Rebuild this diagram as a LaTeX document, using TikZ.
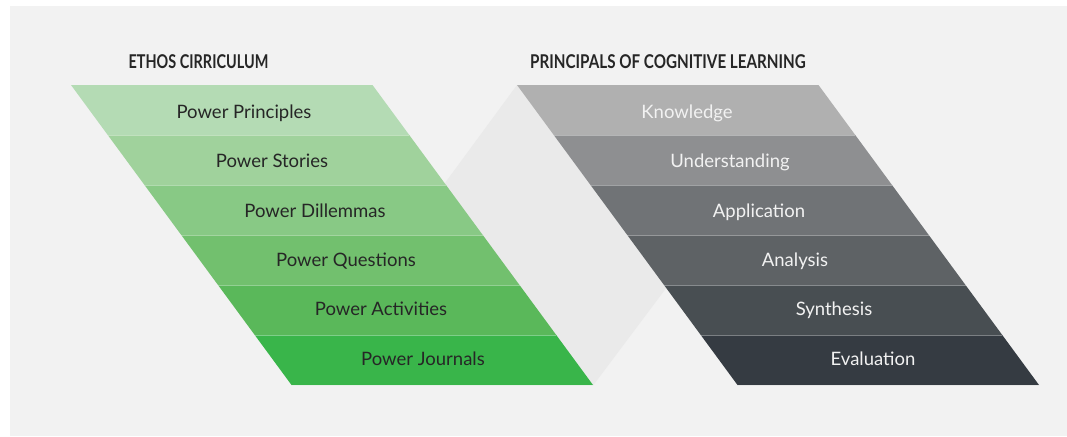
\documentclass[tikz,border=0pt]{standalone}
\usepackage{fontspec}
\setmainfont{Lato}
\definecolor{bgc}{HTML}{F2F2F2}
\definecolor{conn}{HTML}{EAEAEA}
\definecolor{ga}{HTML}{B4DBB4}
\definecolor{gb}{HTML}{A0D29C}
\definecolor{gc}{HTML}{88C985}
\definecolor{gd}{HTML}{72C06E}
\definecolor{ge}{HTML}{5AB85A}
\definecolor{gf}{HTML}{39B54A}
\definecolor{ka}{HTML}{B0B0B0}
\definecolor{kb}{HTML}{8E8F91}
\definecolor{kc}{HTML}{707376}
\definecolor{kd}{HTML}{5E6265}
\definecolor{ke}{HTML}{484E52}
\definecolor{kf}{HTML}{353B42}
\definecolor{darktext}{HTML}{262626}
\definecolor{lighttext}{HTML}{F2F2F2}
\tikzset{
  heading/.style={font=\bfseries\fontsize{19}{19}\selectfont, text=darktext, inner sep=0pt, anchor=base},
  greenlabel/.style={font=\fontsize{18.5}{18.5}\selectfont, text=darktext, inner sep=0pt, anchor=base},
  greylabel/.style={font=\fontsize{18.5}{18.5}\selectfont, text=lighttext, inner sep=0pt, anchor=base},
  sepline/.style={draw=white, draw opacity=0.35, line width=0.8pt}
}
\begin{document}
\begin{tikzpicture}[x=1pt,y=-1pt]
\useasboundingbox (0,0) rectangle (1067,436);
\fill[white] (0,0) rectangle (1067,436);
\fill[bgc] (10,6) rectangle (1067,436);
% connecting back face
\fill[conn] (517,85) -- (818.5,85) -- (593.5,385) -- (296.5,385) -- cycle;
% green bands
\foreach \i/\c in {0/ga,1/gb,2/gc,3/gd,4/ge,5/gf}{
  \pgfmathsetmacro{\ya}{85+50*\i}
  \pgfmathsetmacro{\yb}{85+50*(\i+1)}
  \fill[\c] ({71+0.735*(\ya-85)},\ya) -- ({372.5+0.735*(\ya-85)},\ya)
     -- ({372.5+0.735*(\yb-85)},\yb) -- ({71+0.735*(\yb-85)},\yb) -- cycle;
}
% grey bands
\foreach \i/\c in {0/ka,1/kb,2/kc,3/kd,4/ke,5/kf}{
  \pgfmathsetmacro{\ya}{85+50*\i}
  \pgfmathsetmacro{\yb}{85+50*(\i+1)}
  \fill[\c] ({517+0.735*(\ya-85)},\ya) -- ({818.5+0.735*(\ya-85)},\ya)
     -- ({818.5+0.735*(\yb-85)},\yb) -- ({517+0.735*(\yb-85)},\yb) -- cycle;
}
% separators
\foreach \i in {1,...,6}{
  \pgfmathsetmacro{\ya}{85+50*\i}
  \draw[sepline] ({71+0.735*(\ya-85)},\ya) -- ({372.5+0.735*(\ya-85)},\ya);
  \draw[sepline] ({517+0.735*(\ya-85)},\ya) -- ({818.5+0.735*(\ya-85)},\ya);
}
% headings
\node[heading] (h1) at (198.5,68.3) {\scalebox{0.76}[1]{ETHOS CIRRICULUM}};
\node[heading] (h2) at (668,68.3) {\scalebox{0.8}[1]{PRINCIPALS OF COGNITIVE LEARNING}};
% labels
\node[greenlabel] (p1) at (244,118.8) {Power Principles};
\node[greenlabel] (p2) at (272,167.8) {Power Stories};
\node[greenlabel] (p3) at (315,217.1) {Power Dillemmas};
\node[greenlabel] (p4) at (346,266.4) {Power Questions};
\node[greenlabel] (p5) at (381,315.7) {Power Activities};
\node[greenlabel] (p6) at (423,365) {Power Journals};
\node[greylabel] (c1) at (687,118.8) {Knowledge};
\node[greylabel] (c2) at (730,167.8) {Understanding};
\node[greylabel] (c3) at (759,217.1) {Application};
\node[greylabel] (c4) at (795,266.4) {Analysis};
\node[greylabel] (c5) at (834,315.7) {Synthesis};
\node[greylabel] (c6) at (873,365) {Evaluation};
\end{tikzpicture}
\end{document}
